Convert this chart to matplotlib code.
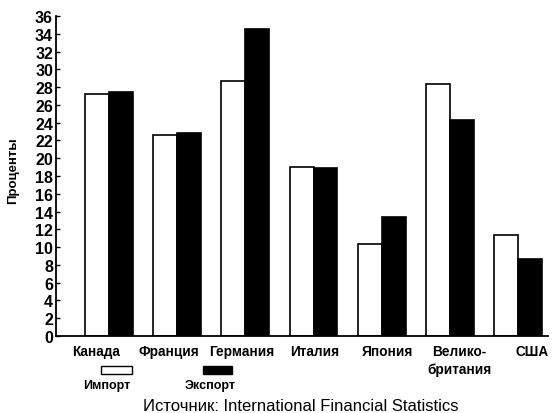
import numpy as np
import matplotlib.pyplot as plt
from matplotlib.patches import Rectangle

countries = ["Канада", "Франция", "Германия", "Италия", "Япония", "Велико-\nбритания", "США"]
imports = [27.2, 22.6, 28.7, 19.0, 10.4, 28.4, 11.4]
exports = [27.5, 22.8, 34.5, 18.9, 13.4, 24.3, 8.7]
yticks = list(range(0, 37, 2))

plt.rcParams['font.family'] = ['Liberation Sans', 'DejaVu Sans']

fig = plt.figure(figsize=(5.52, 4.14), dpi=100)
ax = fig.add_axes([0.101, 0.186, 0.892, 0.773])

x = np.arange(len(countries))
w = 0.35
ax.bar(x - w/2, imports, w, color="white", edgecolor="black", linewidth=1.2)
ax.bar(x + w/2, exports, w, color="black", edgecolor="black", linewidth=1.2)

ax.set_xlim(-0.78, 6.44)
ax.set_ylim(0, 36)
ax.set_yticks(yticks)
ax.set_yticklabels([str(t) for t in yticks], fontsize=11.5, fontweight="bold")
ax.tick_params(axis="y", direction="in", length=3, width=1, pad=2)
# labels in the original are spread a bit wider than the bar groups
ax.set_xticks(x + np.linspace(-0.19, 0.21, len(x)))
ax.set_xticklabels(countries, fontsize=9.8, fontweight="bold", va="top", linespacing=1.3)
ax.tick_params(axis="x", length=0, pad=6)
ax.spines["top"].set_visible(False)
ax.spines["right"].set_visible(False)
ax.spines["left"].set_linewidth(1.3)
ax.spines["bottom"].set_linewidth(1.3)
ax.set_ylabel("Проценты", fontsize=9.5, fontweight="bold")
ax.yaxis.set_label_coords(-0.075, 0.52)

# legend: box above the label
fig.add_artist(Rectangle((101/552, 1 - 375/414), 31/552, 8/414, transform=fig.transFigure,
                         facecolor="white", edgecolor="black", linewidth=1))
fig.add_artist(Rectangle((203/552, 1 - 375/414), 29/552, 8/414, transform=fig.transFigure,
                         facecolor="black", edgecolor="black", linewidth=1))
fig.text(107/552, 1 - 386/414, "Импорт", fontsize=9, fontweight="bold", ha="center", va="center")
fig.text(210/552, 1 - 386/414, "Экспорт", fontsize=9, fontweight="bold", ha="center", va="center")
fig.text(301/552, 1 - 407/414, "Источник: International Financial Statistics", fontsize=12,
         ha="center", va="center")

fig.savefig("out.png", dpi=100)
